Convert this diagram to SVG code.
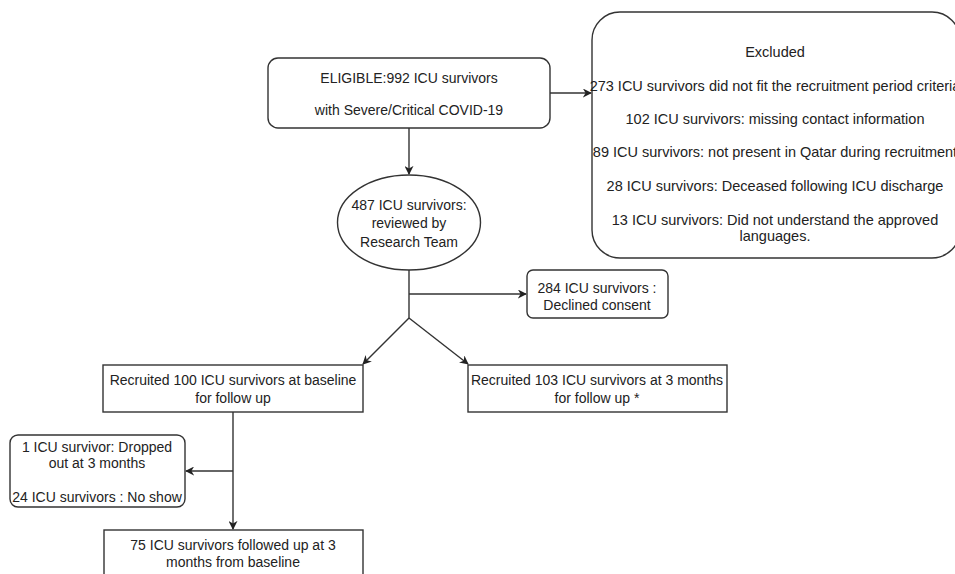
<svg xmlns="http://www.w3.org/2000/svg" width="955" height="574" viewBox="0 0 955 574">
<defs>
<marker id="arr" viewBox="0 0 10 10" refX="9" refY="5" markerWidth="9" markerHeight="9" markerUnits="userSpaceOnUse" orient="auto">
<path d="M0,0 L10,5 L0,10 L3,5 Z" fill="#222"/>
</marker>
<style>
.box{fill:#fff;stroke:#333;stroke-width:1.4}
.t{font-family:"Liberation Sans",Arial,sans-serif;font-size:14px;fill:#222;text-anchor:middle}
.x{font-size:14.5px}
.c{fill:none;stroke:#333;stroke-width:1.4}
</style>
</defs>
<rect width="955" height="574" fill="#fff"/>
<g id="connectors">
<line class="c" x1="550" y1="93" x2="591" y2="93" marker-end="url(#arr)"/>
<line class="c" x1="409" y1="128" x2="409" y2="174" marker-end="url(#arr)"/>
<polyline class="c" points="409,270 409,318"/>
<line class="c" x1="409" y1="294" x2="526" y2="294" marker-end="url(#arr)"/>
<line class="c" x1="409" y1="318" x2="363" y2="364" marker-end="url(#arr)"/>
<line class="c" x1="409" y1="318" x2="468" y2="364" marker-end="url(#arr)"/>
<line class="c" x1="233" y1="412" x2="233" y2="529" marker-end="url(#arr)"/>
<line class="c" x1="233" y1="471" x2="186" y2="471" marker-end="url(#arr)"/>
</g>
<g id="eligible">
<rect class="box" x="268" y="58" width="282" height="70" rx="10"/>
<text class="t" x="409" y="83">ELIGIBLE:992 ICU survivors</text>
<text class="t" x="409" y="115">with Severe/Critical COVID-19</text>
</g>
<g id="excluded">
<rect class="box" x="592" y="12" width="368" height="246" rx="28"/>
<text class="t x" x="775" y="57">Excluded</text>
<text class="t x" x="775" y="91">273 ICU survivors did not fit the recruitment period criteria</text>
<text class="t x" x="775" y="124">102 ICU survivors: missing contact information</text>
<text class="t x" x="775" y="157">89 ICU survivors: not present in Qatar during recruitment</text>
<text class="t x" x="775" y="191">28 ICU survivors: Deceased following ICU discharge</text>
<text class="t x" x="775" y="225">13 ICU survivors: Did not understand the approved</text>
<text class="t x" x="775" y="241">languages.</text>
</g>
<g id="reviewed">
<ellipse class="box" cx="409" cy="222.5" rx="71.5" ry="47.5"/>
<text class="t" x="409" y="210">487 ICU survivors:</text>
<text class="t" x="409" y="228">reviewed by</text>
<text class="t" x="409" y="247">Research Team</text>
</g>
<g id="declined">
<rect class="box" x="527" y="270" width="141" height="48" rx="6"/>
<text class="t" x="597" y="293">284 ICU survivors :</text>
<text class="t" x="597" y="310">Declined consent</text>
</g>
<g id="baseline">
<rect class="box" x="103" y="365" width="260" height="47"/>
<text class="t" x="233" y="385">Recruited 100 ICU survivors at baseline</text>
<text class="t" x="233" y="403">for follow up</text>
</g>
<g id="threemonths">
<rect class="box" x="468" y="365" width="259" height="47"/>
<text class="t" x="597" y="385">Recruited 103 ICU survivors at 3 months</text>
<text class="t" x="597" y="403">for follow up *</text>
</g>
<g id="dropped">
<rect class="box" x="10" y="435" width="175" height="72" rx="8"/>
<text class="t" x="97" y="452">1 ICU survivor: Dropped</text>
<text class="t" x="97" y="468">out at 3 months</text>
<text class="t" x="97" y="502">24 ICU survivors : No show</text>
</g>
<g id="followed">
<rect class="box" x="104" y="530" width="259" height="60"/>
<text class="t" x="233" y="550">75 ICU survivors followed up at 3</text>
<text class="t" x="233" y="567">months from baseline</text>
</g>
</svg>
